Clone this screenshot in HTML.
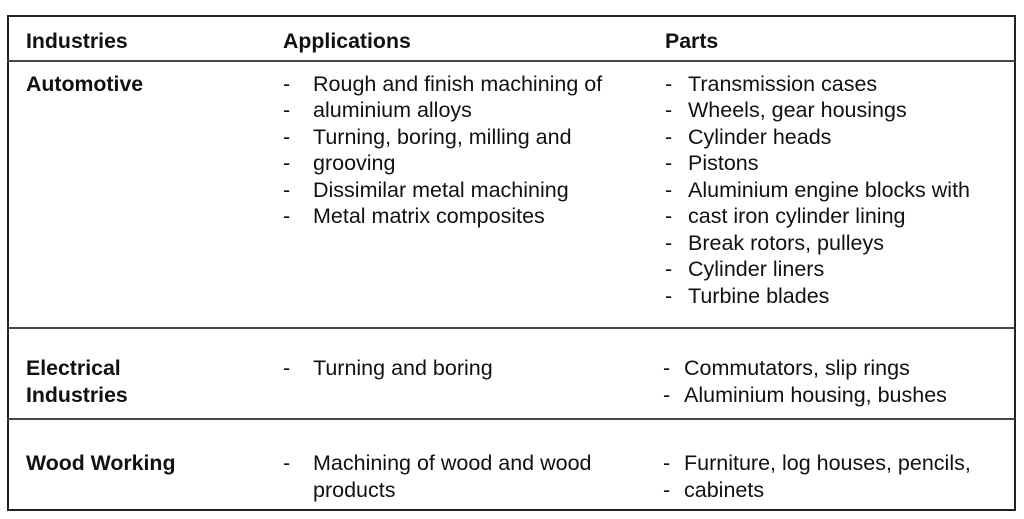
<!DOCTYPE html>
<html><head><style>
body{margin:0;width:1024px;height:519px;background:#fff;position:relative;overflow:hidden;font-family:"Liberation Sans",sans-serif;color:#111}
.t{position:absolute;font-size:21.5px;line-height:24px;white-space:nowrap}
.b{font-weight:bold;font-size:21.3px}
.h{position:absolute;left:7px;width:1008px;height:0;border-top:2px solid #444}
#box{position:absolute;left:7px;top:15px;width:1005px;height:492px;border:2px solid #222}
</style></head><body>
<div id="box"></div>
<div class="h" style="top:60px"></div>
<div class="h" style="top:327px"></div>
<div class="h" style="top:418px"></div>

<div class="t b" style="left:26px;top:29px">Industries</div>
<div class="t b" style="left:283px;top:29px">Applications</div>
<div class="t b" style="left:665px;top:29px">Parts</div>

<div class="t b" style="left:26px;top:72px">Automotive</div>
<div class="t" style="left:283px;top:72px">-</div><div class="t" style="left:313px;top:72px">Rough and finish machining of</div>
<div class="t" style="left:283px;top:98px">-</div><div class="t" style="left:313px;top:98px">aluminium alloys</div>
<div class="t" style="left:283px;top:125px">-</div><div class="t" style="left:313px;top:125px">Turning, boring, milling and</div>
<div class="t" style="left:283px;top:151px">-</div><div class="t" style="left:313px;top:151px">grooving</div>
<div class="t" style="left:283px;top:178px">-</div><div class="t" style="left:313px;top:178px">Dissimilar metal machining</div>
<div class="t" style="left:283px;top:204px">-</div><div class="t" style="left:313px;top:204px">Metal matrix composites</div>

<div class="t" style="left:665px;top:72px">-</div><div class="t" style="left:688px;top:72px">Transmission cases</div>
<div class="t" style="left:665px;top:98px">-</div><div class="t" style="left:688px;top:98px">Wheels, gear housings</div>
<div class="t" style="left:665px;top:125px">-</div><div class="t" style="left:688px;top:125px">Cylinder heads</div>
<div class="t" style="left:665px;top:151px">-</div><div class="t" style="left:688px;top:151px">Pistons</div>
<div class="t" style="left:665px;top:178px">-</div><div class="t" style="left:688px;top:178px">Aluminium engine blocks with</div>
<div class="t" style="left:665px;top:204px">-</div><div class="t" style="left:688px;top:204px">cast iron cylinder lining</div>
<div class="t" style="left:665px;top:231px">-</div><div class="t" style="left:688px;top:231px">Break rotors, pulleys</div>
<div class="t" style="left:665px;top:257px">-</div><div class="t" style="left:688px;top:257px">Cylinder liners</div>
<div class="t" style="left:665px;top:284px">-</div><div class="t" style="left:688px;top:284px">Turbine blades</div>

<div class="t b" style="left:26px;top:356px">Electrical</div>
<div class="t b" style="left:26px;top:383px">Industries</div>
<div class="t" style="left:283px;top:356px">-</div><div class="t" style="left:313px;top:356px">Turning and boring</div>
<div class="t" style="left:663px;top:356px">-</div><div class="t" style="left:684px;top:356px">Commutators, slip rings</div>
<div class="t" style="left:663px;top:383px">-</div><div class="t" style="left:684px;top:383px">Aluminium housing, bushes</div>

<div class="t b" style="left:26px;top:451px">Wood Working</div>
<div class="t" style="left:283px;top:451px">-</div><div class="t" style="left:313px;top:451px">Machining of wood and wood</div>
<div class="t" style="left:313px;top:478px">products</div>
<div class="t" style="left:663px;top:451px">-</div><div class="t" style="left:684px;top:451px">Furniture, log houses, pencils,</div>
<div class="t" style="left:663px;top:478px">-</div><div class="t" style="left:684px;top:478px">cabinets</div>
</body></html>
